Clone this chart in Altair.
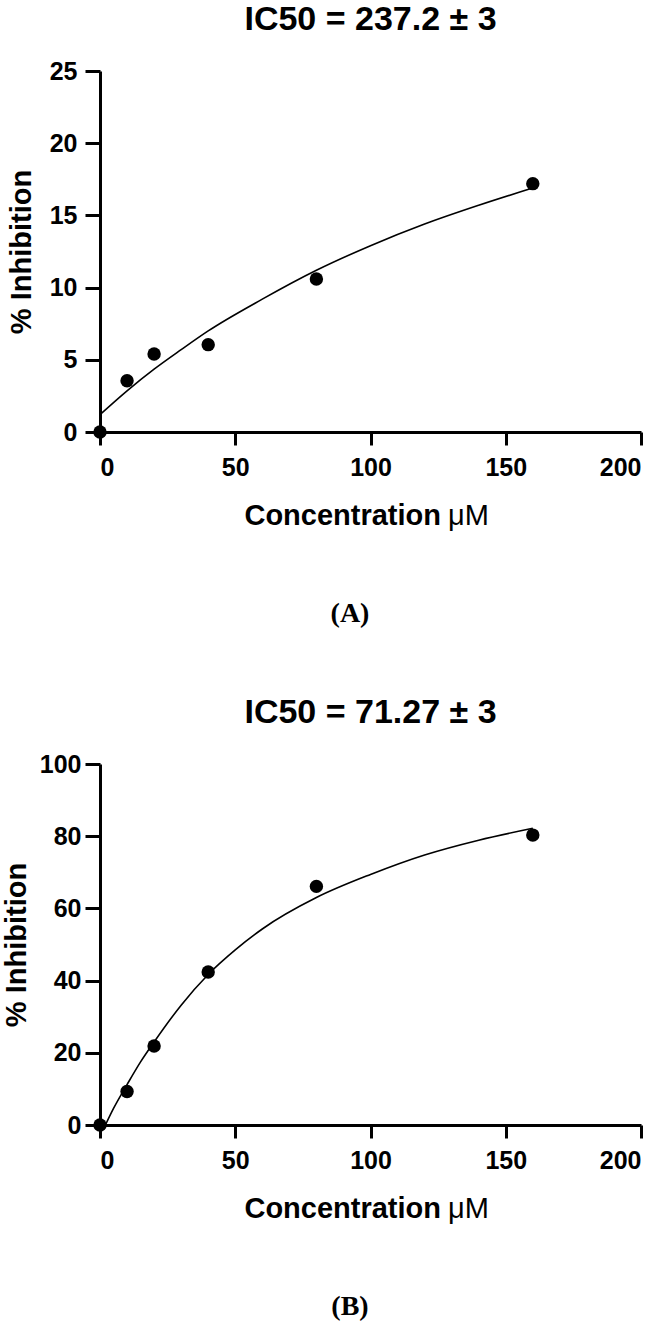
import altair as alt
import pandas as pd

# ---- data ----
conc = [0, 10, 20, 40, 80, 160]
inhib_a = [0.0, 3.55, 5.4, 6.05, 10.6, 17.2]
inhib_b = [0.0, 9.3, 21.9, 42.4, 66.1, 80.3]

fit_a_x = [0, 10, 20, 30, 40, 60, 80, 100, 120, 140, 160]
fit_a_y = [1.2, 2.85, 4.35, 5.7, 7.0, 9.2, 11.2, 12.9, 14.4, 15.7, 16.9]

fit_b_x = [2, 5, 10, 15, 20, 30, 40, 50, 60, 80, 100, 120, 140, 160]
fit_b_y = [0.0, 4.6, 11.2, 17.5, 23.0, 33.2, 41.7, 48.5, 54.3, 63.0, 69.4, 74.8, 78.9, 82.2]

x_ticks = [0, 50, 100, 150, 200]
y_ticks_a = [0, 5, 10, 15, 20, 25]
y_ticks_b = [0, 20, 40, 60, 80, 100]

titles = ["IC50 = 237.2 \u00b1 3", "IC50 = 71.27 \u00b1 3"]
captions = ["(A)", "(B)"]
x_title_bold = "Concentration"
x_title_unit = "\u03bcM"
y_title = "% Inhibition"

SANS = "Liberation Sans"
SERIF = "Liberation Serif"
W, H = 541, 361


def panel(title, pts_y, fit_x, fit_y, y_ticks, caption, ylab_pad, ytitle_pad):
    pts = pd.DataFrame({"x": conc, "y": pts_y})
    fit = pd.DataFrame({"x": fit_x, "y": fit_y})
    xs = alt.Scale(domain=[0, 200], nice=False)
    ys = alt.Scale(domain=[y_ticks[0], y_ticks[-1]], nice=False)
    common = dict(
        grid=False, domainColor="black", domainWidth=3, tickColor="black",
        tickWidth=3, labelFont=SANS, labelFontSize=25,
        labelFontWeight="bold", labelColor="black",
    )
    xax = alt.Axis(values=x_ticks, title=None, labelPadding=10, tickSize=13, **common)
    yax = alt.Axis(values=y_ticks, title=y_title, labelPadding=ylab_pad, tickSize=15,
                   titleFont=SANS, titleFontSize=29, titleFontWeight="bold",
                   titleColor="black", titlePadding=ytitle_pad, **common)
    line = alt.Chart(fit).mark_line(
        color="black", strokeWidth=1.6, interpolate="monotone"
    ).encode(x=alt.X("x:Q", scale=xs, axis=xax), y=alt.Y("y:Q", scale=ys, axis=yax))
    dots = alt.Chart(pts).mark_circle(size=180, color="black", opacity=1).encode(
        x=alt.X("x:Q", scale=xs), y=alt.Y("y:Q", scale=ys)
    )
    t1 = alt.Chart(pd.DataFrame({"t": [x_title_bold]})).mark_text(
        font=SANS, fontSize=29, fontWeight="bold", align="right", baseline="alphabetic",
        color="black"
    ).encode(text="t:N", x=alt.value(341), y=alt.value(H + 93))
    t2 = alt.Chart(pd.DataFrame({"t": [x_title_unit]})).mark_text(
        font=SANS, fontSize=29, fontWeight="normal", align="left", baseline="alphabetic",
        color="black"
    ).encode(text="t:N", x=alt.value(348), y=alt.value(H + 93))
    cap = alt.Chart(pd.DataFrame({"t": [caption]})).mark_text(
        font=SERIF, fontSize=28, fontWeight="bold", align="center", baseline="alphabetic",
        color="black"
    ).encode(text="t:N", x=alt.value(250), y=alt.value(H + 190))
    return alt.layer(line, dots, t1, t2, cap).properties(
        width=W, height=H,
        title=alt.TitleParams(title, font=SANS, fontSize=34, fontWeight="bold",
                              color="black", anchor="middle", offset=22),
    )


a = panel(titles[0], inhib_a, fit_a_x, fit_a_y, y_ticks_a, captions[0], 8, 13)
b = panel(titles[1], inhib_b, fit_b_x, fit_b_y, y_ticks_b, captions[1], 4, 8)

chart = alt.vconcat(a, b, spacing=332, bounds="flush").properties(
    padding={"left": 2, "top": 3, "right": 0, "bottom": 0}
).configure_view(stroke=None)

chart.save("out.html", embed_options={"renderer": "svg", "actions": False})
